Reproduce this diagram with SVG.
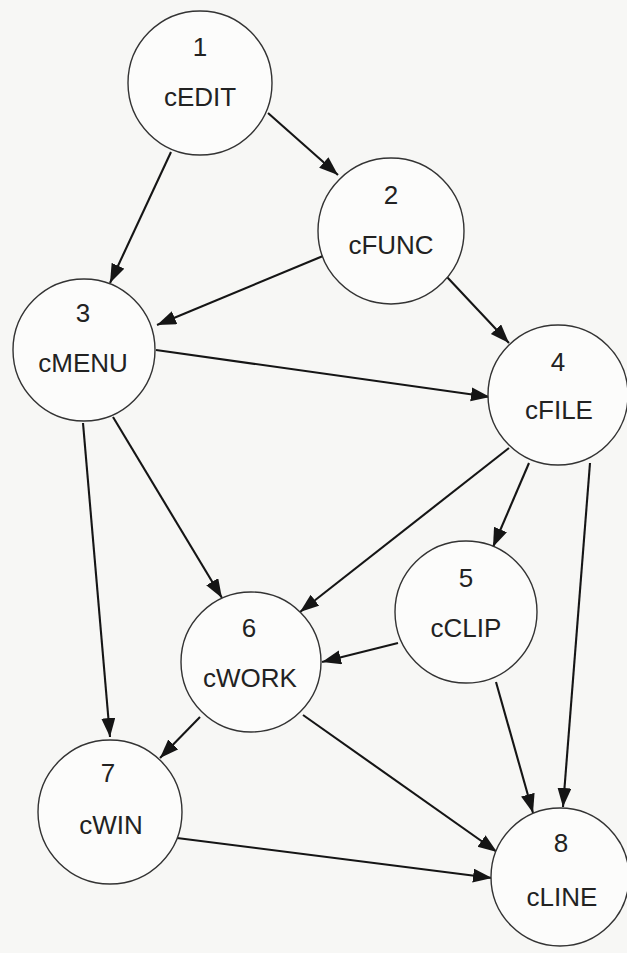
<svg xmlns="http://www.w3.org/2000/svg" width="627" height="953" viewBox="0 0 627 953">
<defs>
<marker id="arr" markerUnits="userSpaceOnUse" markerWidth="20" markerHeight="15" refX="19" refY="7" orient="auto">
<path d="M0,0 L19,7 L0,14 z" fill="#151515"/>
</marker>
<style>
.bg{fill:#f7f7f5}
.node circle{fill:#fcfcfb;stroke:#333;stroke-width:1.4}
.node text{font-family:"Liberation Sans",Arial,sans-serif;font-size:26px;fill:#222;text-anchor:middle}
.edges line{stroke:#151515;stroke-width:2.1;marker-end:url(#arr)}
</style>
</defs>
<rect class="bg" x="0" y="0" width="627" height="953"/>
<g id="edges" class="edges">
<line x1="268" y1="113" x2="338" y2="175"/>
<line x1="171" y1="152" x2="110" y2="283"/>
<line x1="323" y1="256" x2="157" y2="325"/>
<line x1="447" y1="277" x2="509" y2="343"/>
<line x1="156" y1="350" x2="490" y2="397"/>
<line x1="83" y1="423" x2="110" y2="737"/>
<line x1="113" y1="417" x2="222" y2="598"/>
<line x1="509" y1="448" x2="300" y2="612"/>
<line x1="529" y1="463" x2="493" y2="547"/>
<line x1="590" y1="463" x2="563" y2="807"/>
<line x1="398" y1="643" x2="322" y2="662"/>
<line x1="496" y1="682" x2="533" y2="813"/>
<line x1="200" y1="717" x2="160" y2="758"/>
<line x1="303" y1="715" x2="497" y2="852"/>
<line x1="177" y1="838" x2="492" y2="878"/>
</g>
<g id="n1" class="node"><circle cx="200" cy="83" r="72"/><text x="200" y="56">1</text><text x="200" y="106">cEDIT</text></g>
<g id="n2" class="node"><circle cx="391" cy="231" r="73"/><text x="391" y="204">2</text><text x="391" y="254">cFUNC</text></g>
<g id="n3" class="node"><circle cx="84" cy="350" r="71"/><text x="83" y="322">3</text><text x="83" y="372">cMENU</text></g>
<g id="n4" class="node"><circle cx="558" cy="395" r="70"/><text x="558" y="371">4</text><text x="559" y="419">cFILE</text></g>
<g id="n5" class="node"><circle cx="466" cy="612" r="71"/><text x="466" y="587">5</text><text x="466" y="637">cCLIP</text></g>
<g id="n6" class="node"><circle cx="251" cy="662" r="70"/><text x="249" y="637">6</text><text x="250" y="687">cWORK</text></g>
<g id="n7" class="node"><circle cx="110" cy="812" r="72"/><text x="108" y="782">7</text><text x="111" y="834">cWIN</text></g>
<g id="n8" class="node"><circle cx="560" cy="877" r="69"/><text x="561" y="852">8</text><text x="562" y="906">cLINE</text></g>
</svg>
